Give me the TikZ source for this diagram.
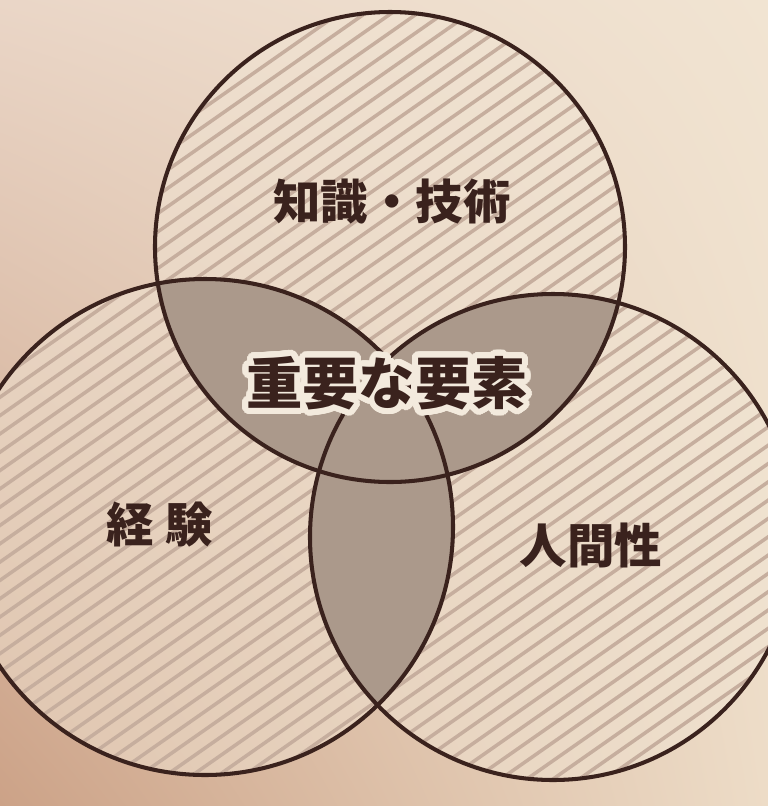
\documentclass[tikz,border=0pt]{standalone}
\usetikzlibrary{shadings}
\usepackage{fontspec}
\newfontfamily\jp{Noto Sans CJK JP}
\usepackage{contour}
\contourlength{3.4pt}
\contournumber{48}

\definecolor{paperUL}{HTML}{EAD6C7}
\definecolor{paperUR}{HTML}{F1E4D2}
\definecolor{paperLL}{HTML}{CCA287}
\definecolor{paperLR}{HTML}{EDDCC7}
\definecolor{cream}{HTML}{F1E5D4}
\definecolor{hatchline}{HTML}{C6AE9E}
\definecolor{shared}{HTML}{AB998B}
\definecolor{ink}{HTML}{3A221D}
\definecolor{halo}{HTML}{F3EADD}

\tikzset{
  ring/.style={draw=ink, line width=2.3pt},
  hatch/.style={draw=hatchline, line width=2pt},
  overlap/.style={fill=shared},
  label/.style={text=ink, font=\jp\bfseries\fontsize{27}{30}\selectfont, inner sep=0pt},
}

\begin{document}
\begin{tikzpicture}[x=0.02cm, y=-0.02cm]
  \useasboundingbox (0,0) rectangle (768,806);

  % paper under uneven light
  \shade[upper left=paperUL, upper right=paperUR, lower left=paperLL, lower right=paperLR]
    (0,0) rectangle (768,806);

  % circle centres
  \coordinate (cTop)   at (390,247);
  \coordinate (cLeft)  at (205,527);
  \coordinate (cRight) at (553,537);

  % light paper inside the three sets
  \fill[cream, opacity=0.5] (cTop) circle[radius=235] (cLeft) circle[radius=248] (cRight) circle[radius=243];

  % diagonal hatching over the union of the circles
  \begin{scope}
    \clip (cTop) circle[radius=235] (cLeft) circle[radius=248] (cRight) circle[radius=243];
    \foreach \k in {-45,...,45}{
      \draw[hatch] ({384+\k*15*sin(35)-1200*cos(35)}, {403+\k*15*cos(35)+1200*sin(35)})
        -- ++({2400*cos(35)}, {-2400*sin(35)});
    }
  \end{scope}

  % shared regions in flat grey
  \begin{scope}
    \clip (cTop) circle[radius=235];
    \fill[overlap] (cLeft) circle[radius=248];
    \fill[overlap] (cRight) circle[radius=243];
  \end{scope}
  \begin{scope}
    \clip (cLeft) circle[radius=248];
    \fill[overlap] (cRight) circle[radius=243];
  \end{scope}

  % outlines
  \draw[ring] (cTop) circle[radius=235];
  \draw[ring] (cLeft) circle[radius=248];
  \draw[ring] (cRight) circle[radius=243];

  % labels
  \node[label] (lblTop)   at (392,202) {知識・技術};
  \node[label] (lblLeft)  at (160,525) {経\hspace{0.25em}験};
  \node[label] (lblRight) at (591,545) {人間性};
  \node[label, font=\jp\bfseries\fontsize{32}{34}\selectfont] (lblCore) at (387,386)
    {\contour{halo}{重要な要素}};
\end{tikzpicture}
\end{document}
